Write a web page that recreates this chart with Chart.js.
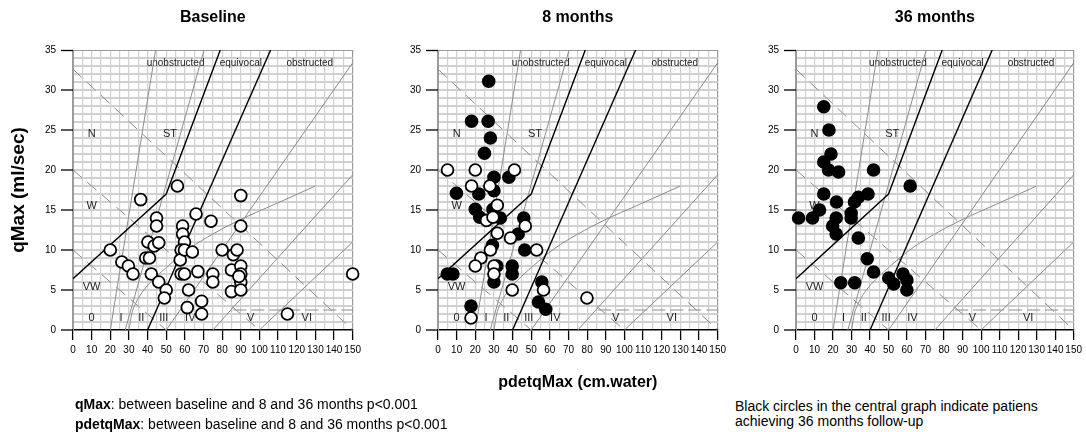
<!DOCTYPE html>
<html>
<head>
<meta charset="utf-8">
<script src="https://cdn.jsdelivr.net/npm/chart.js@4.4.0/dist/chart.umd.min.js"></script>
<style>
  body { margin: 0; background: #fff; width: 1086px; height: 439px; position: relative; overflow: hidden;
         font-family: "Liberation Sans", Arial, sans-serif; }
  canvas { position: absolute; top: 0; }
  .note { position: absolute; font-size: 14px; line-height: 20px; color: #000; white-space: nowrap; }
</style>
</head>
<body>
<canvas id="baseChart" style="left:0px" width="365" height="360"></canvas>
<canvas id="month8Chart" style="left:380px" width="350" height="400"></canvas>
<canvas id="month36Chart" style="left:738px" width="348" height="360"></canvas>
<div class="note" style="left:75px; top:394px"><b>qMax</b>: between baseline and 8 and 36 months p&lt;0.001<br><b>pdetqMax</b>: between baseline and 8 and 36 months p&lt;0.001</div>
<div class="note" style="left:735px; top:399px; line-height:15px">Black circles in the central graph indicate patiens<br>achieving 36 months follow-up</div>
<script>
const FONT = '"Liberation Sans", Arial, sans-serif';

// --- patient values (pdetqMax, qMax) ---
const basePdet = [20, 26.2, 29.7, 32.2, 36.3, 39, 41, 40.2, 43.5, 46, 42, 44.8, 44.8, 46, 50, 49, 56, 58.8, 58.8, 59.8,
  58, 57.5, 59.8, 58, 59.8, 62, 61.3, 64, 66, 67, 69, 69, 74, 75, 75, 80, 86, 88, 85, 85, 90, 90, 90, 90, 90, 90, 89, 115, 150];
const baseQmax = [10, 8.5, 8, 7, 16.3, 9, 9, 11, 10.5, 10.9, 7, 14, 13, 6, 5, 4, 18, 13, 12, 11,
  10, 8.75, 10, 7, 7, 5, 2.8, 9.75, 14.5, 7.3, 3.6, 2, 13.6, 7, 6, 10, 9.4, 10, 7.5, 4.8, 16.8, 13, 8, 7, 6, 5, 6.7, 2, 7];

// 8 months: patients also seen at 36 months (black) and the rest (open)
const m8BlackPdet = [27.2, 18, 26.9, 28.1, 24.9, 30, 38, 9.9, 21.9, 30, 20, 22.4, 29.5, 33.4, 46, 43, 46.5, 29.2, 31.6, 39.8,
  39.8, 30, 5, 8, 17.7, 55.7, 53.9, 57.8];
const m8BlackQmax = [31.1, 26.1, 26.1, 24, 22.1, 19.1, 19.1, 17.1, 17, 17.4, 15.1, 14.1, 15.1, 14, 14, 12, 10, 10.6, 8, 8,
  7, 6, 7, 7, 3, 6, 3.5, 2.6];
const m8OpenPdet = [5.1, 20, 41, 18, 27.8, 31.8, 26, 29.5, 31.8, 38.9, 46.8, 52.9, 28.1, 23, 20, 30, 30, 39.8, 56.6, 79.9, 17.7];
const m8OpenQmax = [20, 20, 20, 18, 18, 15.6, 13.7, 14.1, 12.1, 11.5, 13, 10, 10, 9, 8, 8, 7, 5, 5, 4, 1.5];

const m36Pdet = [15, 17.8, 18.9, 15, 17.6, 23, 41.9, 61.7, 15, 38.9, 33.7, 31.6, 21.9, 12.7, 1.4, 8.9, 21.7, 29.8, 29.8, 19.8,
  21.7, 33.7, 38.5, 41.9, 24.2, 31.7, 50.1, 52.8, 57.8, 59.9, 59.9];
const m36Qmax = [27.9, 25, 22, 21, 20, 19.75, 20, 18, 17, 17, 16.6, 16, 16, 15, 14, 14, 14, 14.6, 14, 13,
  12, 11.5, 8.9, 7.25, 5.9, 5.9, 6.5, 5.75, 7, 6.25, 5];

// --- nomogram reference lines (pdet, q) ---
const icsLow = [[0, 6.4], [50, 17], [79, 35]];
const icsHigh = [[40, 0], [106, 35]];
const grade0I = [[20, 0], [44.3, 35]];
const gradeIII = [[28, 0], [70.3, 35]];
const gradeCurve = [[30, 0], [31.5, 2], [34, 3.5], [38, 5], [43, 6.3], [50, 7.8], [62.6, 10.2], [75, 12], [88, 13.6], [109, 15.8], [130, 18]];
const gradeIVV = [[50, 0], [150, 33.4]];
const gradeV = [[75, 0], [150, 19.4]];
const gradeVVI = [[100, 0], [150, 11]];
const dashN = [[0, 32.6], [150, 0]];
const dashW = [[0, 20], [100, 0]];
const dashVW = [[0, 10], [50, 0]];
const dashLow = [[86, 2.5], [150, 2.5]];

const regionLabels = [['N', 10, 24.5], ['ST', 52, 24.5], ['W', 10, 15.5], ['VW', 10, 5.4],
  ['0', 10, 1.45], ['I', 25.7, 1.45], ['II', 36.6, 1.45], ['III', 48.7, 1.45], ['IV', 62.9, 1.45],
  ['V', 95.3, 1.45], ['VI', 125.4, 1.45]];
const zoneLabels = [['unobstructed', 55, 33.4], ['equivocal', 90, 33.4], ['obstructed', 127, 33.4]];

const toPts = (xs, ys) => xs.map((v, i) => ({ x: v, y: ys[i] }));
const pairPts = arr => arr.map(p => ({ x: p[0], y: p[1] }));

function refLine(arr, color, width, dash, curved) {
  return {
    data: pairPts(arr), showLine: true, pointRadius: 0, borderColor: color, borderWidth: width,
    borderDash: dash || [], cubicInterpolationMode: curved ? 'monotone' : 'default', tension: 0, fill: false
  };
}

function nomogramSets() {
  const g = '#8c8c8c';
  return [
    refLine(icsLow, '#000', 1.4), refLine(icsHigh, '#000', 1.4),
    refLine(grade0I, g, 1), refLine(gradeIII, g, 1), refLine(gradeCurve, g, 1, null, true),
    refLine(gradeIVV, g, 1), refLine(gradeV, g, 1), refLine(gradeVVI, g, 1),
    refLine(dashN, g, 1, [12, 7]), refLine(dashW, g, 1, [12, 7]), refLine(dashVW, g, 1, [12, 7]),
    refLine(dashLow, g, 1, [13, 5])
  ];
}

function circles(xs, ys, fill) {
  return { data: toPts(xs, ys), pointRadius: 5.9, pointBorderWidth: 1.8, pointBorderColor: '#000',
    pointBackgroundColor: fill, showLine: false, clip: false };
}

const nomoLabels = {
  id: 'nomoLabels',
  beforeDatasetsDraw(chart) {
    const { ctx, scales: { x, y } } = chart;
    ctx.save();
    ctx.fillStyle = '#222';
    ctx.textAlign = 'center';
    ctx.textBaseline = 'middle';
    ctx.font = '11px ' + FONT;
    regionLabels.forEach(([t, vx, vy]) => ctx.fillText(t, x.getPixelForValue(vx), y.getPixelForValue(vy)));
    ctx.font = '10px ' + FONT;
    zoneLabels.forEach(([t, vx, vy]) => ctx.fillText(t, x.getPixelForValue(vx), y.getPixelForValue(vy)));
    ctx.restore();
  },
  afterDraw(chart, args, opts) {
    const { ctx, chartArea } = chart;
    ctx.save();
    ctx.fillStyle = '#000';
    ctx.textAlign = 'center';
    ctx.textBaseline = 'middle';
    ctx.font = 'bold 16px ' + FONT;
    ctx.fillText(opts.title, (chartArea.left + chartArea.right) / 2, 18);
    ctx.restore();
  }
};

function makeChart(id, title, sets, yWidth, xHeight, padRight, yTitle, xTitle) {
  return new Chart(document.getElementById(id), {
    type: 'scatter',
    data: { datasets: sets.concat(nomogramSets()) },
    plugins: [nomoLabels],
    options: {
      responsive: false,
      animation: false,
      events: [],
      layout: { autoPadding: false, padding: { top: 50, right: padRight, left: 0, bottom: 0 } },
      plugins: { legend: { display: false }, tooltip: { enabled: false }, nomoLabels: { title: title } },
      scales: {
        x: {
          type: 'linear', min: 0, max: 150,
          ticks: { stepSize: 5, autoSkip: false, maxRotation: 0, padding: 4, color: '#000',
            font: { size: 10, family: FONT }, callback: v => (v % 10 === 0 ? v : '') },
          grid: {
            color: c => (c.tick.value === 150 || c.tick.value === 0 ? '#9a9a9a' : '#d0d0d0'),
            lineWidth: 1.2,
            tickColor: c => (c.tick.value % 10 === 0 ? '#000' : 'rgba(0,0,0,0)'),
            tickLength: 10, tickWidth: 1.3
          },
          border: { color: '#000', width: 1.5 },
          title: { display: !!xTitle, text: xTitle || '', color: '#000',
            font: { size: 16, weight: 'bold', family: FONT }, padding: { top: 0, bottom: 8 } },
          afterFit: s => { s.height = xHeight; }
        },
        y: {
          type: 'linear', min: 0, max: 35,
          ticks: { stepSize: 1, autoSkip: false, padding: 5, color: '#000',
            font: { size: 10, family: FONT }, callback: v => (v % 5 === 0 ? v : '') },
          grid: {
            color: c => (c.tick.value === 35 ? '#9a9a9a' : (c.tick.value === 0 ? 'rgba(0,0,0,0)' : '#d0d0d0')),
            lineWidth: c => (c.tick.value === 35 ? 1 : 2),
            tickColor: c => (c.tick.value % 5 === 0 ? '#000' : 'rgba(0,0,0,0)'),
            tickLength: 12, tickWidth: 1.3
          },
          border: { color: '#9a9a9a', width: 1 },
          title: { display: !!yTitle, text: yTitle || '', color: '#000',
            font: { size: 19, weight: 'bold', family: FONT }, padding: { top: 7, bottom: 0 } },
          afterFit: s => { s.width = yWidth; }
        }
      }
    }
  });
}

makeChart('baseChart', 'Baseline', [circles(basePdet, baseQmax, '#fff')], 73, 30, 10, 'qMax (ml/sec)', null);
makeChart('month8Chart', '8 months',
  [circles(m8OpenPdet, m8OpenQmax, '#fff'), circles(m8BlackPdet, m8BlackQmax, '#000')],
  58, 70, 9, null, 'pdetqMax (cm.water)');
makeChart('month36Chart', '36 months', [circles(m36Pdet, m36Qmax, '#000')], 58, 30, 9, null, null);
</script>
</body>
</html>
